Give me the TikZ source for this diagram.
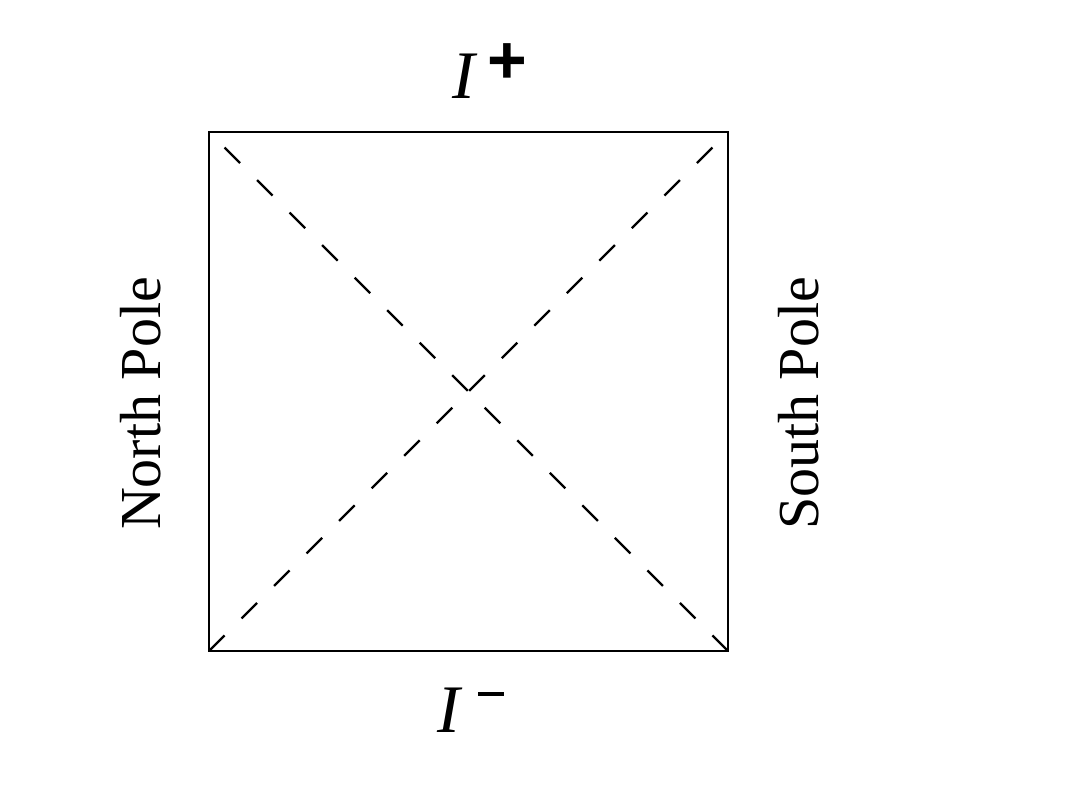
\documentclass[tikz,border=0pt]{standalone}
\usepackage{fontspec}
\setmainfont{Liberation Serif}
\newfontfamily\plusfont{Liberation Sans}
\usetikzlibrary{positioning}

\begin{document}
\begin{tikzpicture}[
        boundary/.style={draw, line width=1.3pt},
        horizon/.style={draw, line width=1.1pt, dash pattern=on 11pt off 12pt},
        pole/.style={rotate=90, anchor=base, font=\fontsize{29}{34}\selectfont, inner sep=0pt},
        scri/.style={anchor=base, font=\fontsize{34}{40}\selectfont, inner sep=0pt}
    ]
        \useasboundingbox (-3.673,-2.372) rectangle (15.236,11.440);

        % Corners
        \coordinate (sw) at (0,0);
        \coordinate (se) at (9.12,0);
        \coordinate (ne) at (9.12,9.12);
        \coordinate (nw) at (0,9.12);

        % Boundary and horizons
        \draw[boundary] (sw) rectangle (ne);
        \draw[horizon] (sw) -- (ne);
        \draw[horizon] (se) -- (nw);

        % Labels
        \node[scri, above=0.597cm of nw, anchor=base west, xshift=4.27cm] (Iplus)
            {\textit{I}\hspace{5pt}\raisebox{7.5pt}{\plusfont\bfseries +}};
        \node[scri, below=1.441cm of sw, anchor=base west, xshift=4.0cm] (Iminus)
            {\textit{I}\hspace{8pt}\raisebox{18.5pt}{\rule{13pt}{2pt}}};
        \node[pole] (north) at (-0.861,4.35) {North Pole};
        \node[pole] (south) at (10.702,4.35) {South Pole};
    \end{tikzpicture}
\end{document}
